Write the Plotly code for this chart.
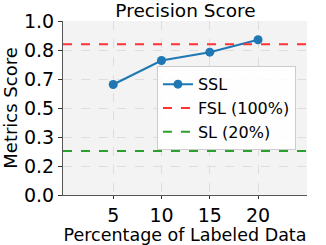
import plotly.graph_objects as go

labeled_pct = [5, 10, 15, 20]
ssl_precision = [0.635, 0.773, 0.821, 0.892]
fsl_precision = 0.866
sl_precision = 0.253
y_tickvals = [0, 1/6, 2/6, 3/6, 4/6, 5/6, 1.0]
y_ticktext = ["0.0", "0.2", "0.3", "0.5", "0.7", "0.8", "1.0"]
x_range = [-0.2, 25.07]

FONT = "DejaVu Sans"

fig = go.Figure()
fig.add_trace(go.Scatter(
    x=labeled_pct, y=ssl_precision, mode="lines+markers", name="SSL",
    line=dict(color="#1f77b4", width=2), marker=dict(size=9, color="#1f77b4")))
fig.add_trace(go.Scatter(
    x=x_range, y=[fsl_precision] * 2, mode="lines", name="FSL (100%)",
    line=dict(color="#ff3333", width=2, dash="dash")))
fig.add_trace(go.Scatter(
    x=x_range, y=[sl_precision] * 2, mode="lines", name="SL (20%)",
    line=dict(color="#2ca02c", width=2, dash="dash")))

fig.update_layout(
    width=326, height=245,
    margin=dict(l=63, r=19, t=21, b=50, autoexpand=False),
    paper_bgcolor="white", plot_bgcolor="#f3f3f3",
    font=dict(family=FONT, size=18, color="black"),
    title=dict(text="Precision Score", x=0.569, xanchor="center", y=0.957, yanchor="middle",
               font=dict(size=18.5)),
    showlegend=True,
    legend=dict(x=0.385, xanchor="left", y=0.74, yanchor="top",
                bgcolor="rgba(255,255,255,0.85)", bordercolor="#cccccc", borderwidth=1,
                font=dict(size=16), tracegroupgap=0, itemwidth=30),
)
fig.update_xaxes(
    range=x_range, tickvals=labeled_pct, ticks="outside", ticklen=3, tickcolor="#333",
    showline=True, linecolor="#555", linewidth=1, mirror=False,
    showgrid=True, gridcolor="#dddddd", griddash="dash", gridwidth=1,
    zeroline=False, tickfont=dict(size=19), automargin=False,
    title=dict(text="Percentage of Labeled Data", font=dict(size=17.5), standoff=0))
fig.update_yaxes(
    range=[0, 1.0], tickvals=y_tickvals, ticktext=y_ticktext, ticks="outside", ticklen=4,
    tickcolor="#333", showline=True, linecolor="#555", linewidth=1,
    showgrid=True, gridcolor="#dddddd", griddash="dash", gridwidth=1,
    zeroline=False, tickfont=dict(size=19), automargin=False,
    title=dict(text="Metrics Score", font=dict(size=18), standoff=2))

fig.write_html("out.html", config={"displayModeBar": False},
               post_script="document.body.style.margin='0';")
